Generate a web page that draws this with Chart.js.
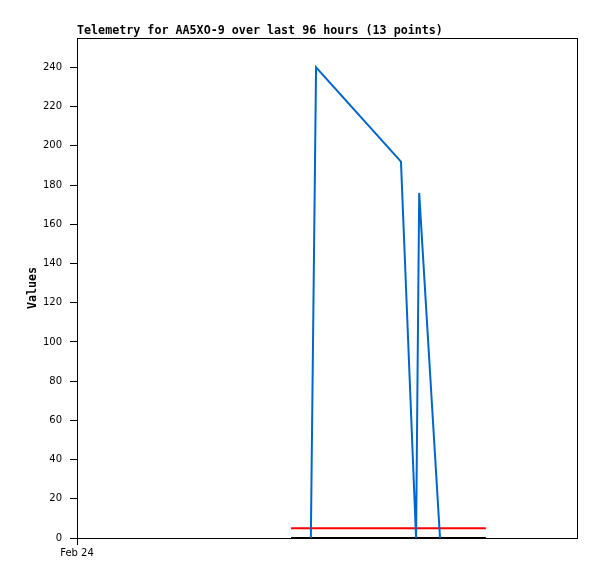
<!DOCTYPE html>
<html>
<head>
<meta charset="utf-8">
<script src="https://cdn.jsdelivr.net/npm/chart.js@4"></script>
<style>
  html, body { margin: 0; padding: 0; background: #fff; }
  #wrap { width: 597px; height: 579px; }
</style>
</head>
<body>
<div id="wrap"><canvas id="graph" width="597" height="579"></canvas></div>
<script>
// hours since start of the 96 hour window
const valueHours = [44.9, 45.9, 62.2, 65.1, 65.7, 69.7];
const valuePoints = [0, 240, 192, 0, 176, 0];
const limitHours = [41.1, 78.5];
const upperLimit = [5, 5];
const lowerLimit = [0, 0];
const yTicks = [0, 20, 40, 60, 80, 100, 120, 140, 160, 180, 200, 220, 240];
const xTickLabels = { 0: "Feb 24" };

const mono = "'DejaVu Sans Mono', 'Liberation Mono', monospace";

function pairs(xs, ys) {
  return xs.map((x, i) => ({ x: x, y: ys[i] }));
}

const frame = {
  id: "frame",
  afterDraw(chart) {
    const { ctx, chartArea: a } = chart;
    ctx.save();
    ctx.strokeStyle = "#000";
    ctx.lineWidth = 1;
    ctx.strokeRect(a.left + 0.5, a.top + 0.5, a.right - a.left, a.bottom - a.top);
    // x tick under Feb 24
    ctx.beginPath();
    ctx.moveTo(a.left + 0.5, a.bottom);
    ctx.lineTo(a.left + 0.5, a.bottom + 7);
    ctx.stroke();
    ctx.fillStyle = "#000";
    ctx.font = "bold 11.7px " + mono;
    ctx.textBaseline = "alphabetic";
    ctx.fillText("Telemetry for AA5XO-9 over last 96 hours (13 points)", a.left, 34);
    ctx.restore();
  }
};

new Chart(document.getElementById("graph"), {
  type: "line",
  data: {
    datasets: [
      {
        label: "Values",
        data: pairs(valueHours, valuePoints),
        borderColor: "#0066cc",
        borderWidth: 2,
        pointRadius: 0,
        tension: 0,
      },
      {
        label: "Upper",
        data: pairs(limitHours, upperLimit),
        borderColor: "#ff0000",
        borderWidth: 2,
        pointRadius: 0,
      },
      {
        label: "Lower",
        data: pairs(limitHours, lowerLimit),
        borderColor: "#000000",
        borderWidth: 2,
        pointRadius: 0,
      },
    ],
  },
  plugins: [frame],
  options: {
    responsive: false,
    animation: false,
    layout: { padding: { top: 38, right: 20, left: 0, bottom: 0 } },
    plugins: { legend: { display: false }, tooltip: { enabled: false } },
    scales: {
      x: {
        type: "linear",
        min: 0,
        max: 96,
        afterFit(scale) { scale.height = 41; },
        afterBuildTicks(scale) { scale.ticks = [{ value: 0 }]; },
        grid: { display: false },
        border: { display: false },
        ticks: {
          maxRotation: 0,
          padding: 1,
          color: "#000",
          font: { family: "'DejaVu Sans', sans-serif", size: 10 },
          callback: (v) => xTickLabels[v] || "",
        },
      },
      y: {
        min: 0,
        max: 255,
        afterFit(scale) { scale.width = 77; },
        afterBuildTicks(scale) { scale.ticks = yTicks.map((v) => ({ value: v })); },
        grid: { drawOnChartArea: false, drawTicks: true, tickLength: 7, color: "#000" },
        border: { display: false },
        ticks: {
          padding: 8,
          color: "#000",
          font: { family: "'DejaVu Sans', sans-serif", size: 10 },
        },
        title: {
          display: true,
          text: "Values",
          color: "#000",
          padding: { top: 26, bottom: 0 },
          font: { family: mono, size: 11.7, weight: "bold" },
        },
      },
    },
  },
});
</script>
</body>
</html>
